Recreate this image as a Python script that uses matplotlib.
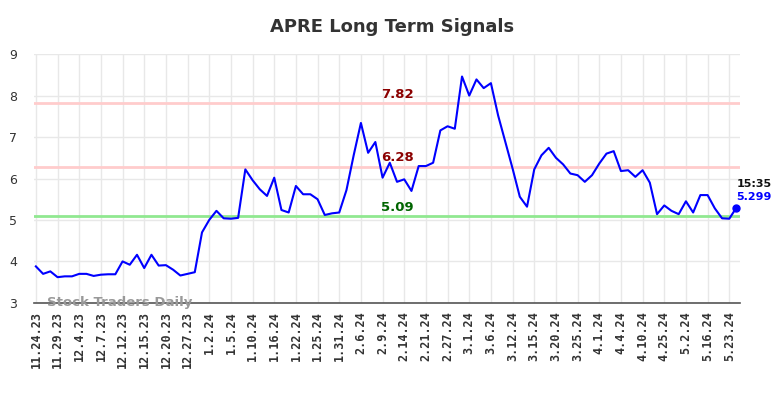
import matplotlib
matplotlib.use("Agg")
import matplotlib.pyplot as plt

# daily signal values, one per trading session
values = [3.88, 3.70, 3.76, 3.62, 3.64, 3.64, 3.70, 3.70, 3.65, 3.68,
          3.69, 3.69, 4.00, 3.92, 4.16, 3.84, 4.16, 3.90, 3.91, 3.80,
          3.66, 3.70, 3.74, 4.70, 5.00, 5.22, 5.04, 5.03, 5.05, 6.22,
          5.96, 5.74, 5.58, 6.02, 5.24, 5.18, 5.82, 5.62, 5.62, 5.50,
          5.12, 5.16, 5.18, 5.72, 6.56, 7.34, 6.62, 6.88, 6.02, 6.38,
          5.92, 5.98, 5.70, 6.30, 6.30, 6.38, 7.16, 7.26, 7.20, 8.46,
          8.00, 8.39, 8.18, 8.30, 7.52, 6.88, 6.24, 5.56, 5.32, 6.22,
          6.56, 6.74, 6.50, 6.34, 6.12, 6.08, 5.92, 6.08, 6.36, 6.60,
          6.66, 6.18, 6.20, 6.04, 6.20, 5.90, 5.14, 5.35, 5.22, 5.14,
          5.45, 5.18, 5.60, 5.60, 5.28, 5.04, 5.03, 5.299]

tick_labels = ["11.24.23", "11.29.23", "12.4.23", "12.7.23", "12.12.23",
               "12.15.23", "12.20.23", "12.27.23", "1.2.24", "1.5.24",
               "1.10.24", "1.16.24", "1.22.24", "1.25.24", "1.31.24",
               "2.6.24", "2.9.24", "2.14.24", "2.21.24", "2.27.24",
               "3.1.24", "3.6.24", "3.12.24", "3.15.24", "3.20.24",
               "3.25.24", "4.1.24", "4.4.24", "4.10.24", "4.25.24",
               "5.2.24", "5.16.24", "5.23.24"]

upper = 7.82
middle = 6.28
lower = 5.09
last_time = "15:35"

x = list(range(len(values)))
tick_pos = [i * 3 for i in range(len(tick_labels))]

fig = plt.figure(figsize=(7.84, 3.98), dpi=100, facecolor='white')
ax = fig.add_axes([0.043, 0.239, 0.901, 0.625])

ax.set_xlim(-0.3, 97.5)
ax.set_ylim(3, 9)
ax.set_yticks(range(3, 10))
ax.set_xticks(tick_pos)
ax.set_xticklabels(tick_labels, rotation=90, fontsize=8.5, fontweight='bold',
                   color='#333333', family='DejaVu Sans Mono')
ax.tick_params(axis='y', labelsize=9, colors='#333333', length=0, pad=12)
ax.tick_params(axis='x', length=0, pad=6)
ax.grid(True, color='#e8e8e8', linewidth=1)
ax.set_axisbelow(True)
for s in ['top', 'right', 'left']:
    ax.spines[s].set_visible(False)
ax.spines['bottom'].set_color('#555555')
ax.spines['bottom'].set_linewidth(1.2)

ax.axhline(upper, color='#ffcccc', linewidth=2)
ax.axhline(middle, color='#ffcccc', linewidth=2)
ax.axhline(lower, color='#90e890', linewidth=2)

ax.text(50, upper + 0.06, "%.2f" % upper, color='#8b0000', fontsize=9.5,
        fontweight='bold', ha='center', va='bottom')
ax.text(50, middle + 0.06, "%.2f" % middle, color='#8b0000', fontsize=9.5,
        fontweight='bold', ha='center', va='bottom')
ax.text(50, lower + 0.06, "%.2f" % lower, color='#006400', fontsize=9.5,
        fontweight='bold', ha='center', va='bottom')

ax.plot(x, values, color='#0000ff', linewidth=1.5)
ax.plot(x[-1], values[-1], 'o', color='#0000ff', markersize=5)

ax.annotate(last_time, xy=(x[-1], values[-1]), xytext=(0, 17),
            textcoords='offset points', fontsize=8, fontweight='bold',
            color='#111111', ha='left', va='center')
ax.annotate("%.3f" % values[-1], xy=(x[-1], values[-1]), xytext=(0, 7.5),
            textcoords='offset points', fontsize=8, fontweight='bold',
            color='#0000ff', ha='left', va='center')

ax.text(1.5, 3.0, "Stock Traders Daily", color='#999999', fontsize=9.5,
        fontweight='bold', ha='left', va='center')

fig.suptitle("APRE Long Term Signals", fontsize=13, fontweight='bold',
             color='#333333', y=0.955)

fig.savefig("out.png", dpi=100, facecolor='white')
